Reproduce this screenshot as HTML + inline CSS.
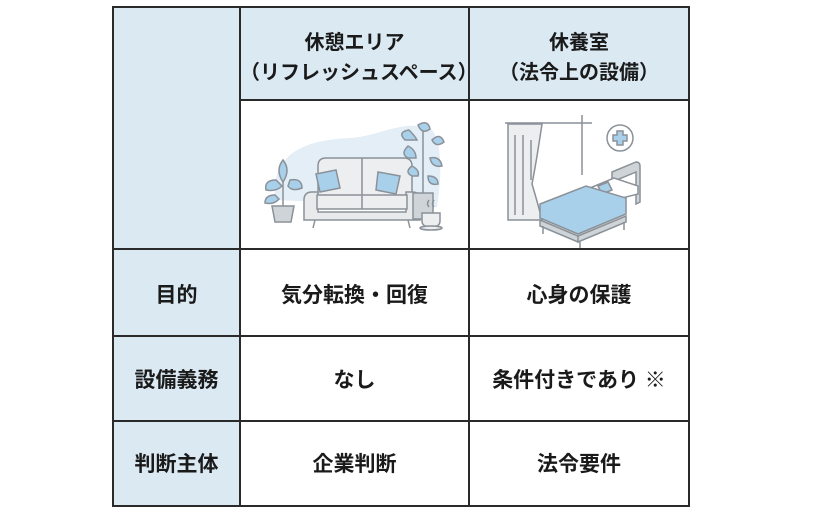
<!DOCTYPE html>
<html><head><meta charset="utf-8"><style>
html,body{margin:0;padding:0;background:#fff;width:824px;height:510px;overflow:hidden}
.t{position:absolute;font-family:"Liberation Sans","Noto Sans CJK JP",sans-serif;font-weight:bold;color:#1a1a1a;text-align:center;line-height:24px}
.b{font-size:21px}
</style></head><body>
<svg width="824" height="510" style="position:absolute;left:0;top:0">
<rect x="113" y="7" width="127" height="499" fill="#dbe9f3"/>
<rect x="240" y="7" width="449" height="93" fill="#dbe9f3"/>
<g stroke="#2a2a2a" stroke-width="2" fill="none">
<rect x="113" y="7" width="576" height="499"/>
<line x1="240" y1="7" x2="240" y2="506"/>
<line x1="469" y1="7" x2="469" y2="506"/>
<line x1="240" y1="100" x2="689" y2="100"/>
<line x1="113" y1="249" x2="689" y2="249"/>
<line x1="113" y1="336" x2="689" y2="336"/>
<line x1="113" y1="421" x2="689" y2="421"/>
</g>
<path d="M275 200 C270 150 310 140 350 138 C380 136 400 120 430 128 C445 140 440 190 437 207 Z" fill="#e3eef6"/>
<g stroke="#8a9198" stroke-width="1.5">
<path d="M318 196 v-30 q0-8 8-8 h78 q8 0 8 8 v30 z" fill="#eceef0"/>
<path d="M304 200 q0-8 8-8 h6 v20 h88 v-20 h6 q8 0 8 8 v20 h-116 z" fill="#e8eaec"/>
<rect x="317" y="195" width="90" height="14" fill="#eceef0"/>
<line x1="362" y1="158" x2="362" y2="209"/>
<line x1="315" y1="220" x2="313" y2="228"/><line x1="408" y1="220" x2="410" y2="228"/>
<path d="M316 174 l20-4 4 18 -20 4z" fill="#a9d0ea"/>
<path d="M378 172 l22 4 -4 18 -20-4z" fill="#a9d0ea"/>
<path d="M272 206 h22 l-3 16 h-16z" fill="#cfd4d8"/>
<path d="M283 206 v-45" fill="none"/>
<path d="M283 160 q8 10 0 22 q-8-12 0-22z M276 180 q-12 0-10 10 q10 2 16-4z M290 180 q12-2 12 8 q-10 4-14-2z M275 195 q-10 0-10 8 q9 2 14-4z" fill="#a9d0ea"/>
<rect x="413" y="193" width="20" height="26" fill="#cfd4d8"/>
<path d="M423 193 v-68" fill="none"/>
<path d="M418 125 q10-6 12 4 q-8 6-12-4z M405 140 q-8-8 4-10 q6 6 8 10z M432 140 q8-8 12 2 q-8 6-12-2z M408 158 q-8-4 0-12 q8 4 8 12z M430 158 q10-2 12 8 q-10 2-12-8z M412 176 q-8-4 0-10 q8 4 6 10z M428 176 q10 0 10 8 q-10 2-10-8z" fill="#a9d0ea"/>
<path d="M422 213 h18 v8 q0 6-9 6 q-9 0-9-6z" fill="#eceef0"/>
<ellipse cx="431" cy="228" rx="11" ry="2" fill="#eceef0"/>
<path d="M429 200 q-3 4 0 7 M434 200 q-3 4 0 7" fill="none"/>
</g>
<g stroke="#8a9198" stroke-width="1.5">
<line x1="505" y1="123" x2="592" y2="123"/>
<line x1="582" y1="115" x2="582" y2="175"/>
<path d="M508 124 h34 q-6 40-10 60 q6 20 10 36 h-34z" fill="#eceef0"/>
<path d="M515 135 v80 M523 135 v80 M531 140 v40" fill="none"/>
<circle cx="620" cy="138" r="13" fill="#fff"/>
<path d="M617 131 h6 v4 h4 v6 h-4 v4 h-6 v-4 h-4 v-6 h4z" fill="#a9d0ea"/>
<path d="M612 172 l24-10 q4 0 4 4 v36 l-4 2 v-32 l-24 10z" fill="#cfd4d8"/>
<path d="M590 188 l24-10 24 8 v8 l-24 6z" fill="#fff"/>
<path d="M598 186 l10-4 4 8 -10 4z" fill="#a9d0ea"/>
<path d="M540 204 l46-18 40 12 v16 l-48 20 -38-16z" fill="#a9d0ea"/>
<path d="M540 220 l38 16 v6 l-38-16z M578 236 l48-20 v6 l-48 20z" fill="#cfd4d8"/>
<line x1="543" y1="226" x2="543" y2="234"/><line x1="580" y1="242" x2="580" y2="248"/><line x1="624" y1="222" x2="624" y2="230"/>
</g>
</svg>
<div class="t" style="left:240px;top:28px;width:229px;font-size:20px;line-height:30px">休憩エリア<br>（リフレッシュスペース）</div>
<div class="t" style="left:469px;top:28px;width:220px;font-size:20px;line-height:30px">休養室<br>（法令上の設備）</div>
<div class="t b" style="left:113px;top:284px;width:127px">目的</div>
<div class="t b" style="left:240px;top:284px;width:229px">気分転換・回復</div>
<div class="t b" style="left:469px;top:284px;width:220px">心身の保護</div>
<div class="t b" style="left:113px;top:369px;width:127px">設備義務</div>
<div class="t b" style="left:240px;top:369px;width:229px">なし</div>
<div class="t b" style="left:469px;top:369px;width:220px">条件付きであり ※</div>
<div class="t b" style="left:113px;top:453px;width:127px">判断主体</div>
<div class="t b" style="left:240px;top:453px;width:229px">企業判断</div>
<div class="t b" style="left:469px;top:453px;width:220px">法令要件</div>
</body></html>
